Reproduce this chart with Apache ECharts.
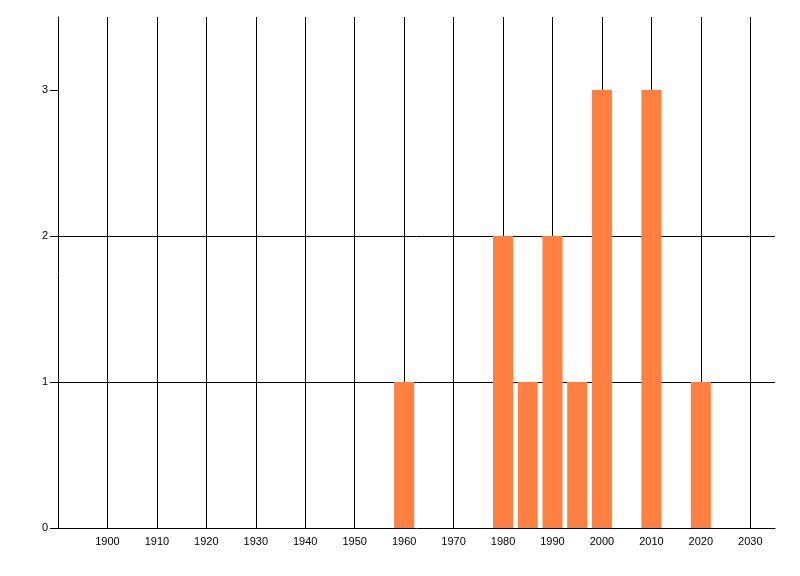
<!DOCTYPE html>
<html>
<head>
<meta charset="utf-8">
<script src="https://cdn.jsdelivr.net/npm/echarts@6/dist/echarts.min.js"></script>
<style>
  html, body { margin: 0; padding: 0; background: #fff; }
  #main { width: 800px; height: 576px; }
</style>
</head>
<body>
<div id="main"></div>
<script>
// decade ticks on the x axis
var yearTicks = [1900, 1910, 1920, 1930, 1940, 1950, 1960, 1970, 1980, 1990, 2000, 2010, 2020, 2030];
var countTicks = [0, 1, 2, 3];

// bars: year and count
var years = [1960, 1980, 1985, 1990, 1995, 2000, 2010, 2020];
var counts = [1, 2, 1, 2, 1, 3, 3, 1];

var barData = years.map(function (y, i) { return [y, counts[i]]; });

var chart = echarts.init(document.getElementById('main'));
chart.setOption({
  animation: false,
  grid: { left: 58, right: 25, top: 17, bottom: 48 },
  xAxis: {
    type: 'value',
    min: 1890,
    max: 2035,
    interval: 10,
    axisLine: { show: true, lineStyle: { color: '#000', width: 1 } },
    axisTick: { show: false },
    axisLabel: {
      customValues: yearTicks,
      formatter: function (v) { return String(v); },
      color: '#000',
      fontSize: 11,
      fontFamily: 'Liberation Sans',
      margin: 8
    },
    splitLine: {
      show: true,
      showMinLine: false,
      showMaxLine: false,
      lineStyle: { color: '#000', width: 1 }
    }
  },
  yAxis: {
    type: 'value',
    min: 0,
    max: 3.5,
    interval: 1,
    axisLine: { show: true, lineStyle: { color: '#000', width: 1 } },
    axisTick: { show: true, length: 8, customValues: countTicks, lineStyle: { color: '#000' } },
    axisLabel: {
      customValues: countTicks,
      color: '#000',
      fontSize: 11,
      fontFamily: 'Liberation Sans',
      margin: 10
    },
    splitLine: {
      show: true,
      showMinLine: false,
      showMaxLine: false,
      lineStyle: { color: '#000', width: 1 }
    }
  },
  series: [{
    type: 'bar',
    data: barData,
    barWidth: 20,
    itemStyle: { color: '#ff8040' }
  }]
});
</script>
</body>
</html>
